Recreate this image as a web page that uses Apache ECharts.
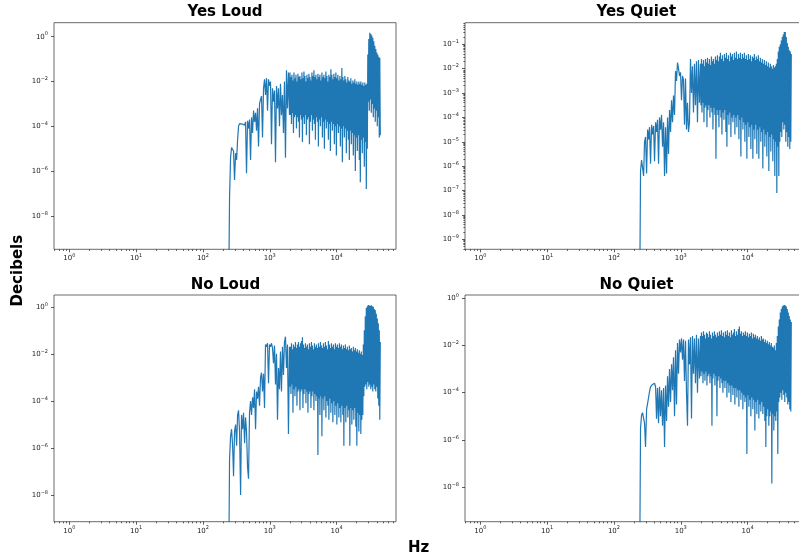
<!DOCTYPE html>
<html>
<head>
<meta charset="utf-8">
<script src="https://cdn.jsdelivr.net/npm/echarts@6/dist/echarts.min.js"></script>
<style>html,body{margin:0;padding:0;background:#fff}#c{width:799px;height:558px}</style>
</head>
<body>
<div id="c"></div>
<script>
// Frequency grid (Hz) read along the x axis
const freqHz = [
  242, 250, 259, 268, 278, 287, 297, 308, 319, 330,
  341, 353, 366, 378, 392, 405, 420, 434, 449, 465,
  481, 498, 516, 534, 553, 572, 592, 613, 634, 656,
  679, 703, 728, 753, 779, 807, 835, 864, 894, 926,
  958, 992, 1026, 1062, 1099, 1138, 1178, 1219, 1262, 1306,
  1351, 1399, 1448, 1498, 1551, 1605, 1661, 1719, 1780, 1842,
  1906, 1973,
  2007, 2042, 2078, 2114, 2151, 2188, 2226, 2264, 2304, 2344,
  2385, 2426, 2468, 2510, 2554, 2598, 2643, 2689, 2736, 2783,
  2832, 2881, 2931, 2982, 3034, 3086, 3140, 3194, 3250, 3306,
  3364, 3421, 3481, 3541, 3603, 3665, 3729, 3793, 3859, 3926,
  3995, 4064, 4135, 4206, 4279, 4353, 4429, 4505, 4584, 4663,
  4744, 4826, 4910, 4995, 5082, 5170, 5260, 5351, 5444, 5538,
  5634, 5732, 5831, 5933, 6036, 6140, 6247, 6355, 6466, 6578,
  6692, 6808, 6926, 7046, 7169, 7293, 7420, 7548, 7679, 7812,
  7948, 8085, 8226, 8368, 8514, 8661, 8812, 8965, 9121, 9278,
  9440, 9603, 9770, 9939, 10112, 10287, 10466, 10647, 10832, 11020,
  11212, 11405, 11604, 11805, 12010, 12218, 12431, 12646, 12866, 13088,
  13316, 13546, 13782, 14020, 14264, 14511, 14764, 15019, 15280, 15545,
  15815, 16089, 16369, 16652, 16942, 17235, 17535, 17838, 18148, 18462,
  18784, 19108, 19441, 19777, 20121, 20469, 20826, 21186, 21555, 21927,
  22309, 22694, 23090, 23489, 23898, 24311, 24735, 25162, 25601, 26042,
  26497, 26954, 27424, 27897, 28384, 28874, 29377, 29884, 30405, 30930,
  31470, 32013, 32571, 33133, 33711, 34293, 34891, 35493, 36112, 36735,
  37376, 38021, 38684, 39352, 40038, 40729, 41439, 42154, 42889, 43630,
  44390, 45157
];

// Magnitudes, stored as log10(value)
const yesLoudLog = [
  -12, -7.2, -5.4, -4.95, -4.93, -5.1, -6.4, -5.2, -5.5, -4.6,
  -4.0, -3.88, -3.85, -3.83, -3.9, -3.82, -3.95, -3.8, -6.1, -3.75,
  -4.1, -3.7, -5.5, -3.6, -4.3, -3.3, -3.8, -3.4, -4.2, -3.2,
  -4.9, -3.0, -2.8, -2.65, -4.5, -2.3, -1.9, -2.6, -1.85, -3.3,
  -1.9, -2.2, -2.0, -4.8, -2.3, -2.9, -2.4, -5.6, -2.2, -3.2,
  -2.3, -4.0, -2.1, -3.5, -2.6, -4.3, -2.0, -5.4, -1.5, -3.2,
  -1.6, -3.5,
  -1.6, -3.5, -1.8, -3.9, -1.7, -3.4, -1.95, -4.3, -1.6, -3.6, -1.85, -3.5, -1.7, -4.1, -2.0, -3.6, -1.65, -3.8, -1.8, -4.5,
  -1.75, -3.5, -1.9, -3.7, -1.6, -4.7, -1.85, -3.6, -1.55, -3.9, -1.75, -3.5, -2.0, -4.4, -1.7, -3.7, -1.85, -3.6, -1.65, -4.8,
  -1.8, -3.8, -1.95, -3.5, -1.6, -4.2, -1.75, -3.7, -1.5, -3.9, -1.8, -4.6, -1.7, -3.6, -1.9, -3.8, -1.65, -4.9, -1.8, -3.7,
  -1.7, -4.0, -1.95, -3.6, -1.6, -4.5, -1.8, -3.8, -1.7, -5.0, -1.85, -3.7, -1.55, -4.1, -1.75, -3.8, -2.0, -4.6, -1.7, -3.9,
  -1.8, -5.1, -1.45, -3.8, -1.7, -4.2, -1.9, -3.9, -1.65, -4.8, -1.8, -4.0, -1.6, -5.3, -1.85, -3.9, -1.7, -4.3, -1.95, -4.0,
  -1.75, -4.9, -1.9, -4.1, -1.4, -5.6, -1.8, -4.0, -1.95, -4.5, -1.75, -4.1, -1.9, -5.2, -2.05, -4.2, -1.8, -4.6, -1.95, -5.5,
  -2.0, -4.2, -1.85, -4.8, -2.1, -4.3, -1.95, -5.3, -2.05, -4.4, -1.9, -6.0, -2.1, -4.5, -2.0, -5.1, -2.15, -4.4, -2.0, -5.5,
  -2.1, -6.5, -2.0, -4.6, -2.15, -5.2, -2.05, -4.5, -2.2, -5.8, -2.05, -4.7, -2.15, -6.8, -2.1, -5.0, -0.8, -2.9, -0.1, -3.3,
  0.18, -2.8, 0.12, -3.4, 0.05, -3.0, -0.05, -3.6, -0.2, -3.2, -0.4, -3.8, -0.55, -3.3, -0.7, -4.0, -0.8, -3.6, -0.9, -4.5,
  -0.95, -4.4
];
const yesQuietLog = [
  -12, -6.2, -5.75, -5.8, -6.4, -5.0, -4.8, -6.3, -4.5, -4.9,
  -4.4, -5.9, -4.3, -4.7, -4.35, -5.8, -4.2, -4.6, -4.1, -5.9,
  -4.0, -4.5, -3.9, -5.2, -4.2, -6.4, -4.4, -6.3, -4.0, -5.5,
  -3.7, -4.6, -3.3, -4.2, -3.1, -3.9, -2.1, -2.5, -1.75, -2.0,
  -2.3, -2.15, -3.3, -2.3, -2.45, -4.3, -2.4, -4.5, -3.4, -4.6,
  -4.2, -1.6, -3.0, -1.9, -3.8, -1.8, -3.5, -1.7, -4.2, -1.65,
  -3.4, -1.8,
  -3.5, -1.6, -3.8, -1.8, -3.4, -1.65, -4.2, -1.9, -3.6, -1.6, -3.5, -1.75, -4.4, -1.55, -3.7, -1.8, -3.5, -1.6, -4.0, -1.85,
  -3.6, -1.5, -3.8, -1.7, -4.5, -1.6, -3.6, -1.8, -3.9, -1.5, -5.7, -1.65, -3.7, -1.45, -3.9, -1.7, -4.4, -1.5, -3.7, -1.35,
  -4.0, -1.6, -4.7, -1.45, -3.8, -1.7, -4.1, -1.4, -3.7, -1.55, -4.6, -1.35, -5.2, -1.6, -3.9, -1.45, -4.3, -1.7, -3.8, -1.35,
  -4.8, -1.5, -4.0, -1.4, -4.2, -1.65, -3.9, -1.35, -4.7, -1.55, -4.0, -1.3, -4.4, -1.6, -3.9, -1.4, -4.9, -1.55, -4.1, -1.35,
  -5.6, -1.6, -4.0, -1.4, -4.5, -1.55, -4.2, -1.35, -5.0, -1.6, -4.3, -1.45, -5.7, -1.65, -4.2, -1.4, -4.8, -1.6, -4.4, -1.45,
  -5.3, -1.7, -4.3, -1.5, -5.7, -1.55, -4.5, -1.4, -4.9, -1.65, -4.3, -1.5, -5.5, -1.6, -4.5, -1.45, -5.7, -1.7, -4.4, -1.55,
  -5.0, -1.75, -4.6, -1.6, -6.1, -1.8, -4.5, -1.65, -5.2, -1.85, -4.7, -1.7, -5.6, -1.9, -4.6, -1.75, -6.2, -1.95, -4.8, -1.8,
  -5.4, -1.9, -4.7, -2.0, -5.8, -1.85, -4.9, -1.95, -6.4, -1.9, -5.0, -1.8, -7.1, -1.6, -5.2, -1.3, -6.4, -1.1, -5.0, -1.0,
  -4.6, -0.85, -4.8, -0.7, -4.2, -0.6, -4.5, -0.5, -4.3, -0.5, -5.0, -0.7, -4.6, -0.95, -5.2, -1.1, -4.8, -1.25, -5.3, -1.3,
  -5.0, -1.4
];
const noLoudLog = [
  -12, -6.5, -5.5, -5.2, -5.9, -7.2, -5.3, -5.0, -5.9, -4.6,
  -4.4, -5.3, -8.0, -4.6, -5.2, -4.5, -5.8, -4.7, -5.3, -6.8,
  -7.3, -4.5, -4.0, -4.6, -3.85, -4.3, -3.5, -5.2, -3.6, -3.9,
  -3.4, -4.2, -3.0, -2.8, -3.6, -2.85, -4.3, -1.6, -1.7, -1.55,
  -3.25, -1.6, -1.7, -1.55, -1.75, -2.4, -1.65, -3.3, -2.0, -4.8,
  -2.6, -3.5, -1.9, -3.6, -1.7, -2.9, -1.5, -1.27, -2.6, -1.6,
  -5.4, -1.7,
  -3.4, -1.7, -3.7, -1.55, -3.3, -1.8, -4.5, -1.6, -3.5, -1.7, -3.8, -1.5, -3.4, -1.75, -4.2, -1.6, -3.6, -1.5, -3.5, -1.7,
  -4.4, -1.55, -3.6, -1.45, -3.5, -1.3, -4.3, -1.6, -3.7, -1.75, -3.5, -1.55, -4.1, -1.7, -3.6, -1.6, -4.5, -1.8, -3.7, -1.55,
  -3.6, -1.7, -4.3, -1.5, -3.8, -1.65, -3.6, -1.8, -4.4, -1.55, -3.7, -1.7, -4.0, -1.6, -3.8, -1.75, -6.3, -1.55, -3.9, -1.7,
  -4.6, -1.5, -3.8, -1.65, -5.5, -1.75, -3.9, -1.55, -4.4, -1.7, -3.8, -1.5, -4.7, -1.65, -4.0, -1.8, -4.2, -1.45, -4.8, -1.6,
  -3.9, -1.75, -4.5, -1.55, -4.1, -1.7, -4.9, -1.6, -4.0, -1.8, -4.6, -1.55, -4.2, -1.7, -5.0, -1.6, -4.1, -1.75, -4.7, -1.55,
  -4.3, -1.7, -4.9, -1.6, -4.2, -1.8, -4.6, -1.65, -5.9, -1.75, -4.3, -1.6, -4.9, -1.8, -4.2, -1.7, -4.7, -1.85, -4.4, -1.65,
  -5.9, -1.8, -4.3, -1.75, -5.0, -1.9, -4.4, -1.7, -4.8, -1.85, -4.3, -1.75, -5.1, -1.9, -5.9, -1.8, -4.5, -1.95, -5.3, -1.85,
  -4.6, -2.0, -5.4, -1.9, -4.8, -2.05, -4.6, -1.6, -3.8, -1.0, -3.4, -0.4, -3.3, -0.05, -3.5, 0.02, -3.2, 0.07, -3.4, 0.05,
  -3.3, 0.04, -3.5, 0.06, -3.4, 0.02, -3.6, 0.0, -3.3, -0.1, -3.5, -0.15, -3.6, -0.3, -3.4, -0.5, -3.9, -0.7, -4.2, -1.0,
  -4.8, -1.5
];
const noQuietLog = [
  -12, -5.5, -4.95, -4.85, -4.9, -5.3, -6.3, -4.7, -4.45, -4.2,
  -3.95, -3.75, -3.7, -3.65, -3.7, -3.6, -3.75, -5.1, -3.8, -5.3,
  -3.75, -5.0, -3.9, -5.4, -3.8, -6.3, -3.7, -5.2, -3.3, -4.6,
  -3.0, -4.4, -2.8, -3.9, -2.5, -5.0, -2.2, -4.5, -1.9, -3.2,
  -1.75, -2.3, -1.7, -2.6, -1.75, -3.5, -1.8, -4.0, -5.4, -1.75,
  -2.8, -1.65, -5.1, -1.6, -3.2, -1.7, -3.6, -1.55, -4.0, -1.7,
  -3.4, -1.6,
  -3.3, -1.45, -3.1, -1.6, -3.6, -1.4, -3.2, -1.55, -3.5, -1.7, -3.1, -1.45, -3.7, -1.5, -3.3, -1.65, -3.2, -1.4, -3.6, -1.55,
  -3.3, -1.7, -5.4, -1.45, -3.4, -1.6, -3.2, -1.4, -3.7, -1.55, -3.3, -1.65, -5.0, -1.45, -3.5, -1.6, -3.3, -1.4, -3.8, -1.55,
  -3.4, -1.35, -3.6, -1.6, -4.0, -1.45, -3.5, -1.65, -3.8, -1.4, -3.5, -1.55, -4.2, -1.35, -3.6, -1.6, -4.0, -1.45, -3.7, -1.65,
  -4.4, -1.35, -3.7, -1.55, -4.1, -1.45, -3.8, -1.3, -4.5, -1.6, -3.8, -1.4, -4.2, -1.55, -3.9, -1.3, -4.6, -1.2, -3.9, -1.5,
  -4.3, -1.4, -4.0, -1.6, -4.7, -1.45, -4.1, -1.55, -4.4, -1.4, -4.2, -1.6, -6.6, -1.45, -4.1, -1.65, -4.6, -1.5, -4.3, -1.6,
  -5.0, -1.45, -4.2, -1.7, -4.7, -1.5, -4.3, -1.65, -5.6, -1.55, -4.4, -1.7, -4.9, -1.6, -4.3, -1.75, -5.1, -1.65, -4.5, -1.8,
  -4.8, -1.6, -4.4, -1.75, -4.9, -1.7, -4.6, -1.85, -5.2, -1.75, -6.3, -1.9, -5.0, -1.8, -4.7, -1.95, -5.4, -1.85, -5.0, -2.0,
  -4.8, -1.9, -7.85, -2.05, -4.9, -2.1, -5.6, -2.0, -5.0, -2.2, -5.2, -1.9, -4.8, -1.6, -6.6, -1.2, -4.4, -0.9, -4.2, -0.6,
  -4.0, -0.45, -4.3, -0.35, -3.9, -0.3, -4.1, -0.28, -4.4, -0.3, -4.0, -0.35, -4.2, -0.45, -4.5, -0.6, -4.4, -0.75, -4.7, -0.9,
  -4.8, -1.0
];

const panelTitles = ['Yes Loud', 'Yes Quiet', 'No Loud', 'No Quiet'];
const xTickValues = [1, 10, 100, 1000, 10000];
const yTickEven = [1, 1e-2, 1e-4, 1e-6, 1e-8];
const yTickEvery = [1e-1, 1e-2, 1e-3, 1e-4, 1e-5, 1e-6, 1e-7, 1e-8, 1e-9];
const xLabel = 'Hz';
const yLabel = 'Decibels';

// layout / styling
const FONT = '"DejaVu Sans", sans-serif';
const BLUE = '#1f77b4';
const panels = [
  { values: yesLoudLog,  left: 54,  top: 22.7, height: 226.6, yExp: [-9.49, 0.625],  yTicks: yTickEven,  yMinor: false, tx: 225,   ty: 12.5 },
  { values: yesQuietLog, left: 465, top: 22.7, height: 226.6, yExp: [-9.41, -0.115], yTicks: yTickEvery, yMinor: true,  tx: 636.3, ty: 12.5 },
  { values: noLoudLog,   left: 54,  top: 295,  height: 226.7, yExp: [-9.13, 0.50],   yTicks: yTickEven,  yMinor: false, tx: 225.5, ty: 285.5 },
  { values: noQuietLog,  left: 465, top: 295,  height: 226.7, yExp: [-9.47, 0.14],   yTicks: yTickEven,  yMinor: false, tx: 636.5, ty: 285.5 }
];
const xExp = [-0.23, 4.89];

function supLabel(v) {
  const e = Math.round(Math.log10(v));
  return '{b|10}{e|' + (e < 0 ? '\u2212' + (-e) : String(e)) + '}';
}
const labelRich = {
  b: { fontSize: 7, fontFamily: FONT, color: '#222' },
  e: { fontSize: 5, fontFamily: FONT, color: '#222', padding: [0, 0, 5, 0] }
};
function minorTicks(lo, hi) {
  const out = [];
  for (let d = Math.floor(lo) - 1; d <= Math.ceil(hi); d++) {
    for (let k = 2; k <= 9; k++) {
      const v = k * Math.pow(10, d);
      const l = Math.log10(v);
      if (l > lo && l < hi) out.push(v);
    }
  }
  return out;
}

const grids = [], xAxes = [], yAxes = [], series = [], graphics = [];
const tickStyle = { color: '#333', width: 0.8 };

panels.forEach((p, g) => {
  grids.push({
    left: p.left, top: p.top, width: 342, height: p.height,
    show: true, borderColor: '#444', borderWidth: 0.8, backgroundColor: 'transparent',
    containLabel: false, outerBoundsMode: 'none'
  });
  const xMin = Math.pow(10, xExp[0]), xMax = Math.pow(10, xExp[1]);
  const yMin = Math.pow(10, p.yExp[0]), yMax = Math.pow(10, p.yExp[1]);
  xAxes.push({
    type: 'log', logBase: 10, gridIndex: g, position: 'bottom', min: xMin, max: xMax,
    axisLine: { show: false }, splitLine: { show: false }, minorTick: { show: false },
    axisTick: { show: true, customValues: xTickValues, length: 3, lineStyle: tickStyle },
    axisLabel: { customValues: xTickValues, formatter: supLabel, margin: 4, rich: labelRich }
  });
  xAxes.push({
    type: 'log', logBase: 10, gridIndex: g, position: 'bottom', min: xMin, max: xMax,
    axisLine: { show: false }, splitLine: { show: false },
    axisTick: { show: true, customValues: minorTicks(xExp[0], xExp[1]), length: 1.6, lineStyle: tickStyle },
    axisLabel: { show: false }
  });
  yAxes.push({
    type: 'log', logBase: 10, gridIndex: g, position: 'left', min: yMin, max: yMax,
    axisLine: { show: false }, splitLine: { show: false }, minorTick: { show: false },
    axisTick: { show: true, customValues: p.yTicks, length: 3, lineStyle: tickStyle },
    axisLabel: { customValues: p.yTicks, formatter: supLabel, margin: 6, rich: labelRich }
  });
  yAxes.push({
    type: 'log', logBase: 10, gridIndex: g, position: 'left', min: yMin, max: yMax,
    axisLine: { show: false }, splitLine: { show: false },
    axisTick: { show: p.yMinor, customValues: p.yMinor ? minorTicks(p.yExp[0], p.yExp[1]) : [], length: 1.6, lineStyle: tickStyle },
    axisLabel: { show: false }
  });
  series.push({
    type: 'line', xAxisIndex: 2 * g, yAxisIndex: 2 * g,
    data: freqHz.map((f, k) => [f, Math.pow(10, p.values[k])]),
    showSymbol: false, symbol: 'none', clip: true, silent: true,
    lineStyle: { width: 1.2, color: BLUE }, itemStyle: { color: BLUE }
  });
  graphics.push({
    type: 'text', x: p.tx, y: p.ty, silent: true,
    style: { text: panelTitles[g], fill: '#000', font: 'bold 15px ' + FONT, align: 'center', verticalAlign: 'middle' }
  });
});

graphics.push({
  type: 'text', x: 18.3, y: 270.7, rotation: Math.PI / 2, silent: true,
  style: { text: yLabel, fill: '#000', font: 'bold 15px ' + FONT, align: 'center', verticalAlign: 'middle' }
});
graphics.push({
  type: 'text', x: 418.7, y: 548.3, silent: true,
  style: { text: xLabel, fill: '#000', font: 'bold 15px ' + FONT, align: 'center', verticalAlign: 'middle' }
});

const chart = echarts.init(document.getElementById('c'), null, { renderer: 'canvas' });
chart.setOption({
  animation: false,
  backgroundColor: '#fff',
  grid: grids,
  xAxis: xAxes,
  yAxis: yAxes,
  series: series,
  graphic: graphics
});
</script>
</body>
</html>
